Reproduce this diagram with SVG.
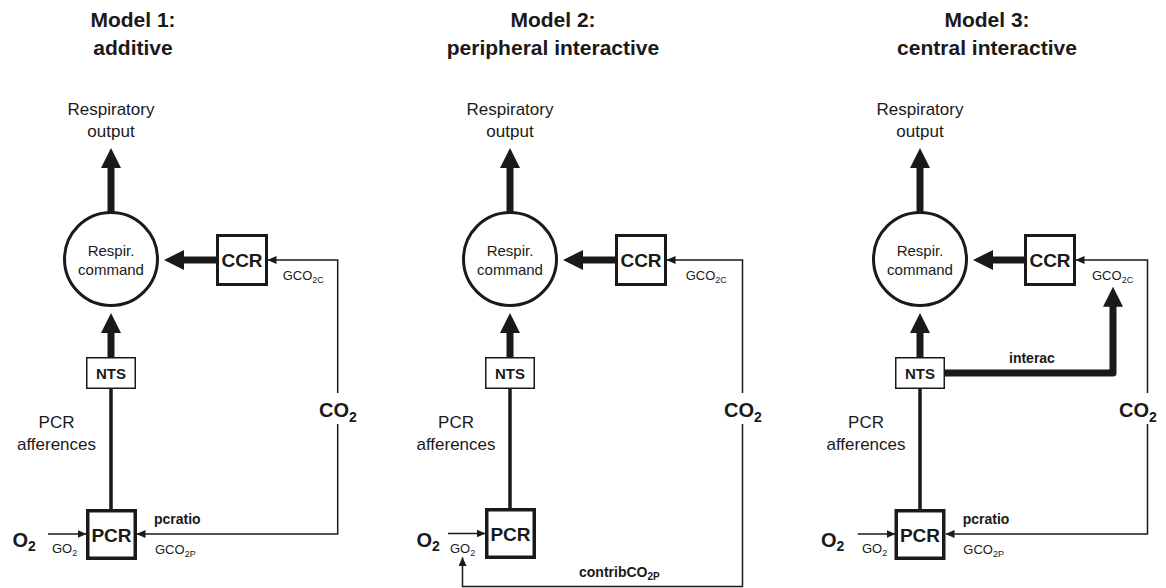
<svg xmlns="http://www.w3.org/2000/svg" width="1166" height="588" viewBox="0 0 1166 588">
<style>
  text { font-family: "Liberation Sans", Arial, sans-serif; fill: #1a1a1a; }
  .title { font-size: 21px; font-weight: bold; text-anchor: middle; }
  .lbl { font-size: 17px; text-anchor: middle; }
  .cmd { font-size: 15px; text-anchor: middle; }
  .box { font-size: 19px; font-weight: bold; text-anchor: middle; }
  .nts { font-size: 15px; font-weight: bold; text-anchor: middle; }
  .gas { font-size: 20px; font-weight: bold; }
  .gsub { font-size: 14px; }
  .g { font-size: 13px; }
  .gs { font-size: 9px; }
  .bl { font-size: 14px; font-weight: bold; }
  .bls { font-size: 10px; }
  .thickbox { fill: #fff; stroke: #1a1a1a; stroke-width: 3; }
  .pcrbox { fill: #fff; stroke: #1a1a1a; stroke-width: 3.5; }
  .thinbox { fill: #fff; stroke: #1a1a1a; stroke-width: 1.5; }
  .circ { fill: #fff; stroke: #1a1a1a; stroke-width: 3; }
  .thick { fill: none; stroke: #1a1a1a; stroke-width: 7; marker-end: url(#bigHead); }
  .med { fill: none; stroke: #1a1a1a; stroke-width: 3.5; }
  .thin { fill: none; stroke: #1a1a1a; stroke-width: 1.5; marker-end: url(#smallHead); }
</style>
<defs>
  <marker id="bigHead" viewBox="0 0 20 20" refX="2" refY="10" markerWidth="20" markerHeight="20" markerUnits="userSpaceOnUse" orient="auto">
    <path d="M0,0 L20,10 L0,20 Z" fill="#1a1a1a"/>
  </marker>
  <marker id="smallHead" viewBox="0 0 9 8" refX="8.5" refY="4" markerWidth="9" markerHeight="8" markerUnits="userSpaceOnUse" orient="auto">
    <path d="M0,0 L9,4 L0,8 Z" fill="#1a1a1a"/>
  </marker>
</defs>
<rect width="1166" height="588" fill="#fff"/>

<!-- ===== Model 1 ===== -->
<g id="model1">
  <g id="m1-title">
    <text class="title" x="133" y="27">Model 1:</text>
    <text class="title" x="133" y="55">additive</text>
  </g>
  <g id="m1-connectors">
    <line class="thick" x1="111" y1="212" x2="111" y2="166"/>
    <line class="thick" x1="217" y1="260" x2="182" y2="260"/>
    <line class="thick" x1="111" y1="358" x2="111" y2="331"/>
    <line class="med" x1="111" y1="389" x2="111" y2="510"/>
    <path class="thin" d="M337.7,393 V260 H268"/>
    <path class="thin" d="M337.7,424 V534 H137"/>
    <line class="thin" x1="48" y1="534" x2="86" y2="534"/>
  </g>
  <g id="m1-output"><text class="lbl" x="111" y="115">Respiratory</text><text class="lbl" x="111" y="137">output</text></g>
  <g id="m1-command">
    <circle class="circ" cx="111" cy="259" r="46.5"/>
    <text class="cmd" x="111" y="256">Respir.</text>
    <text class="cmd" x="111" y="274.5">command</text>
  </g>
  <g id="m1-ccr">
    <rect class="thickbox" x="217.5" y="235.5" width="49" height="49"/>
    <text class="box" x="242" y="267">CCR</text>
  </g>
  <g id="m1-nts">
    <rect class="thinbox" x="86.75" y="357.75" width="48.5" height="30.5"/>
    <text class="nts" x="111" y="379">NTS</text>
  </g>
  <g id="m1-pcr">
    <rect class="pcrbox" x="87.75" y="510.75" width="47.5" height="47.5"/>
    <text class="box" x="111.5" y="541.5">PCR</text>
  </g>
  <g id="m1-labels">
    <text class="lbl" x="56.5" y="428">PCR</text>
    <text class="lbl" x="56.5" y="450">afferences</text>
    <text class="gas" x="12.5" y="547">O<tspan class="gsub" dy="4">2</tspan></text>
    <text class="g" x="52" y="553">GO<tspan class="gs" dy="3">2</tspan></text>
    <text class="g" x="282.7" y="280">GCO<tspan class="gs" dy="3">2C</tspan></text>
    <text class="gas" x="319" y="417">CO<tspan class="gsub" dy="5">2</tspan></text>
    <text class="bl" x="154" y="524">pcratio</text>
    <text class="g" x="155" y="554">GCO<tspan class="gs" dy="3">2P</tspan></text>
  </g>
</g>

<!-- ===== Model 2 ===== -->
<g id="model2">
  <g id="m2-title">
    <text class="title" x="553" y="27">Model 2:</text>
    <text class="title" x="553" y="55">peripheral interactive</text>
  </g>
  <g id="m2-connectors">
    <line class="thick" x1="510" y1="212" x2="510" y2="166"/>
    <line class="thick" x1="616" y1="260" x2="581" y2="260"/>
    <line class="thick" x1="510" y1="358" x2="510" y2="331"/>
    <line class="med" x1="510" y1="389" x2="510" y2="509"/>
    <path class="thin" d="M742.5,393 V260 H667"/>
    <path class="thin" d="M742.5,424 V586.5 H462.5 V557.5"/>
    <line class="thin" x1="448" y1="533.5" x2="485" y2="533.5"/>
  </g>
  <g id="m2-output"><text class="lbl" x="510" y="115">Respiratory</text><text class="lbl" x="510" y="137">output</text></g>
  <g id="m2-command">
    <circle class="circ" cx="510" cy="259" r="46.5"/>
    <text class="cmd" x="510" y="256">Respir.</text>
    <text class="cmd" x="510" y="274.5">command</text>
  </g>
  <g id="m2-ccr">
    <rect class="thickbox" x="616.5" y="235.5" width="49" height="49"/>
    <text class="box" x="641" y="267">CCR</text>
  </g>
  <g id="m2-nts">
    <rect class="thinbox" x="485.75" y="357.75" width="48.5" height="30.5"/>
    <text class="nts" x="510" y="379">NTS</text>
  </g>
  <g id="m2-pcr">
    <rect class="pcrbox" x="486.75" y="509.75" width="47.5" height="47.5"/>
    <text class="box" x="510.5" y="540.5">PCR</text>
  </g>
  <g id="m2-labels">
    <text class="lbl" x="456" y="428">PCR</text>
    <text class="lbl" x="456" y="450">afferences</text>
    <text class="gas" x="416.5" y="547">O<tspan class="gsub" dy="4">2</tspan></text>
    <text class="g" x="450" y="553">GO<tspan class="gs" dy="3">2</tspan></text>
    <text class="g" x="685.7" y="280">GCO<tspan class="gs" dy="3">2C</tspan></text>
    <text class="gas" x="724" y="417">CO<tspan class="gsub" dy="5">2</tspan></text>
    <text class="bl" x="579" y="577">contribCO<tspan class="bls" dy="3">2P</tspan></text>
  </g>
</g>

<!-- ===== Model 3 ===== -->
<g id="model3">
  <g id="m3-title">
    <text class="title" x="987" y="27">Model 3:</text>
    <text class="title" x="987" y="55">central interactive</text>
  </g>
  <g id="m3-connectors">
    <line class="thick" x1="920" y1="212" x2="920" y2="166"/>
    <line class="thick" x1="1025" y1="260" x2="991" y2="260"/>
    <line class="thick" x1="920" y1="358" x2="920" y2="331"/>
    <path class="thick" stroke-linejoin="round" d="M945,373 H1113 V304.7"/>
    <line class="med" x1="920" y1="389" x2="920" y2="510"/>
    <path class="thin" d="M1147.5,393 V260 H1076"/>
    <path class="thin" d="M1147.5,424 V534 H946"/>
    <line class="thin" x1="857.7" y1="534" x2="895" y2="534"/>
  </g>
  <g id="m3-output"><text class="lbl" x="920" y="115">Respiratory</text><text class="lbl" x="920" y="137">output</text></g>
  <g id="m3-command">
    <circle class="circ" cx="920" cy="259" r="46.5"/>
    <text class="cmd" x="920" y="256">Respir.</text>
    <text class="cmd" x="920" y="274.5">command</text>
  </g>
  <g id="m3-ccr">
    <rect class="thickbox" x="1025.5" y="235.5" width="49" height="49"/>
    <text class="box" x="1050" y="267">CCR</text>
  </g>
  <g id="m3-nts">
    <rect class="thinbox" x="895.75" y="357.75" width="48.5" height="30.5"/>
    <text class="nts" x="920" y="379">NTS</text>
  </g>
  <g id="m3-pcr">
    <rect class="pcrbox" x="896.25" y="510.75" width="47.5" height="47.5"/>
    <text class="box" x="920" y="541.5">PCR</text>
  </g>
  <g id="m3-labels">
    <text class="lbl" x="866" y="428">PCR</text>
    <text class="lbl" x="866" y="450">afferences</text>
    <text class="gas" x="821" y="547">O<tspan class="gsub" dy="4">2</tspan></text>
    <text class="g" x="862" y="553">GO<tspan class="gs" dy="3">2</tspan></text>
    <text class="g" x="1092" y="280">GCO<tspan class="gs" dy="3">2C</tspan></text>
    <text class="gas" x="1119" y="417">CO<tspan class="gsub" dy="5">2</tspan></text>
    <text class="bl" x="1009" y="363">interac</text>
    <text class="bl" x="962.7" y="524">pcratio</text>
    <text class="g" x="963.3" y="554">GCO<tspan class="gs" dy="3">2P</tspan></text>
  </g>
</g>
</svg>
